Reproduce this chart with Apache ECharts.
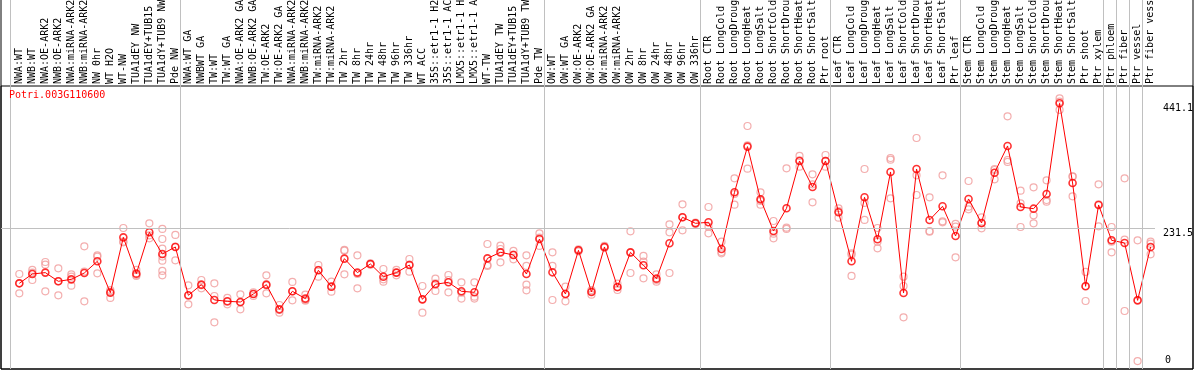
<!DOCTYPE html>
<html>
<head>
<meta charset="utf-8">
<script src="https://cdn.jsdelivr.net/npm/echarts@6/dist/echarts.min.js"></script>
<style>
  html, body { margin: 0; padding: 0; background: #fff; }
  #chart { width: 1194px; height: 370px; }
</style>
</head>
<body>
<div id="chart"></div>
<script>
const geneName = 'Potri.003G110600';

const categories = [
  'NWA:WT', 'NWB:WT', 'NWA:OE-ARK2', 'NWB:OE-ARK2', 'NWA:miRNA-ARK2', 'NWB:miRNA-ARK2',
  'NW 0hr', 'WT H2O', 'WT-NW', 'TUA1dEY NW', 'TUA1dEY+TUB15 NW', 'TUA1dY+TUB9 NW', 'Pde NW',
  'NWA:WT GA', 'NWBWT GA', 'TW:WT', 'TW:WT GA', 'NWA:OE-ARK2 GA', 'NWB:OE-ARK2 GA',
  'TW:OE-ARK2', 'TW:OE-ARK2 GA', 'NWA:miRNA-ARK2', 'NWB:miRNA-ARK2', 'TW:miRNA-ARK2',
  'TW:miRNA-ARK2 GA', 'TW 2hr', 'TW 8hr', 'TW 24hr', 'TW 48hr', 'TW 96hr', 'TW 336hr',
  'WT ACC', '35S::etr1-1 H2O', '35S::etr1-1 ACC', 'LMX5::etr1-1 H2O', 'LMX5::etr1-1 ACC',
  'WT-TW', 'TUA1dEY TW', 'TUA1dEY+TUB15 TW', 'TUA1dY+TUB9 TW', 'Pde TW',
  'OW:WT', 'OW:WT GA', 'OW:OE-ARK2', 'OW:OE-ARK2 GA', 'OW:miRNA-ARK2', 'OW:miRNA-ARK2 GA',
  'OW 2hr', 'OW 8hr', 'OW 24hr', 'OW 48hr', 'OW 96hr', 'OW 336hr',
  'Root CTR', 'Root LongCold', 'Root LongDrought', 'Root LongHeat', 'Root LongSalt',
  'Root ShortCold', 'Root ShortDrought', 'Root ShortHeat', 'Root ShortSalt', 'Ptr root',
  'Leaf CTR', 'Leaf LongCold', 'Leaf LongDrought', 'Leaf LongHeat', 'Leaf LongSalt',
  'Leaf ShortCold', 'Leaf ShortDrought', 'Leaf ShortHeat', 'Leaf ShortSalt', 'Ptr leaf',
  'Stem CTR', 'Stem LongCold', 'Stem LongDrought', 'Stem LongHeat', 'Stem LongSalt',
  'Stem ShortCold', 'Stem ShortDrought', 'Stem ShortHeat', 'Stem ShortSalt', 'Ptr shoot',
  'Ptr xylem', 'Ptr phloem', 'Ptr fiber', 'Ptr vessel', 'Ptr fiber vessel'
];

// number of categories in each separated group (left to right)
const groupSizes = [13, 28, 12, 10, 10, 11, 1, 1, 1, 1];

const meanValues = [
  138.5, 154.2, 156.5, 141.9, 145.2, 155.9, 175.5, 122.8, 215.8, 154.8, 224.3, 187.8, 199.6,
  118.4, 136.3, 110.5, 108.3, 107.1, 120.6, 136.3, 94.8, 125.1, 112.8, 160.4, 132.9, 180.0,
  156.5, 171.0, 149.7, 156.5, 169.3, 111.6, 136.9, 140.2, 125.1, 123.4, 180.5, 190.6, 186.2,
  154.2, 213.0,
  157.0, 120.6, 194.0, 124.0, 199.6, 132.4, 190.6, 168.8, 146.4, 205.8, 249.5, 239.4,
  241.1, 196.2, 291.5, 368.3, 279.7, 226.5, 264.6, 344.2, 300.5, 344.2,
  257.9, 175.5, 283.1, 212.5, 325.7, 122.3, 330.7, 245.0, 268.0, 218.1,
  280.3, 239.9, 324.5, 369.4, 266.8, 264.0, 288.7, 441.1, 307.2, 133.5, 270.2,
  210.8, 206.3, 109.9, 199.6
];

const replicateValues = [
  [154.2, 138.5, 121.7], [161.0, 156.5, 144.1], [174.4, 169.9, 125.1], [163.7, 141.9, 118.4],
  [153.7, 149.7, 134.6], [200.7, 158.2, 108.3], [185.6, 183.4, 155.3], [127.3, 124.5, 113.9],
  [231.5, 208.6, 207.4], [161.0, 152.5, 150.9], [239.4, 219.2, 214.2],
  [229.9, 213.0, 196.8, 183.4, 176.6, 159.3, 152.0], [219.8, 200.2, 177.2],
  [135.2, 117.8, 103.2], [144.1, 135.2, 130.1], [138.5, 117.2, 73.0], [113.9, 107.7, 103.2],
  [120.0, 106.6, 94.8], [123.4, 120.6, 117.2], [152.0, 135.2, 121.7], [102.1, 93.7, 89.2],
  [140.8, 125.1, 110.0], [119.5, 110.5, 109.4], [169.3, 161.0, 149.7], [141.3, 132.9, 124.5],
  [194.6, 193.4, 153.7], [185.6, 154.2, 130.1], [172.1, 171.0, 169.9], [162.6, 145.2, 141.3],
  [161.0, 156.5, 152.0], [179.4, 169.9, 158.1], [134.0, 111.6, 89.2], [146.4, 138.5, 125.6],
  [152.5, 144.1, 123.4], [140.2, 122.8, 112.8], [140.2, 116.1, 112.8], [204.6, 169.3, 167.7],
  [201.8, 196.2, 173.8], [192.9, 186.7, 178.9], [185.6, 167.7, 136.3, 126.8], [222.6, 215.3, 201.3],
  [190.6, 167.7, 110.5], [132.9, 120.6, 108.3], [195.7, 194.0, 192.3], [127.3, 125.1, 119.5],
  [201.3, 199.0, 198.5], [138.0, 131.8, 127.3], [225.9, 190.1, 155.9], [184.5, 175.0, 146.9],
  [153.7, 144.1, 141.3], [237.7, 224.3, 155.9], [271.3, 249.5, 227.6], [240.5, 239.4, 238.3],
  [266.8, 233.8, 222.6], [208.6, 191.2, 189.0], [315.0, 288.7, 270.8], [403.0, 370.5, 331.3],
  [291.5, 276.9, 270.8], [243.3, 222.0, 214.2], [331.8, 232.1, 229.9], [352.6, 345.3, 334.6],
  [321.7, 304.9, 274.7], [354.2, 344.2, 334.6],
  [264.6, 260.1, 248.9], [189.0, 186.7, 150.9], [330.7, 273.6, 245.0], [231.5, 208.6, 197.4],
  [349.2, 346.4, 281.4], [149.7, 134.0, 81.4], [382.8, 320.0, 287.0], [283.1, 226.5, 225.4],
  [320.0, 242.7, 241.1], [238.3, 233.8, 182.2],
  [310.5, 267.4, 262.9], [249.5, 239.4, 231.0], [330.7, 329.0, 313.3], [419.2, 345.8, 342.5],
  [294.3, 273.0, 233.2], [299.9, 252.8, 239.4], [311.7, 278.6, 275.8], [449.5, 443.9, 429.9],
  [318.4, 317.8, 284.8], [157.6, 134.0, 108.8], [304.9, 271.3, 234.3],
  [233.2, 208.6, 190.6], [315.0, 211.9, 92.0], [210.8, 110.5, 7.9], [208.6, 205.2, 187.3]
];

const yTickLabels = [231.5, 441.1];
const yBottomLabel = [0];
const gridLineValue = 231.5;

// ---------- derived structures ----------
const FONT = 'DejaVu Sans Mono';
const X_MIN = -1.408, X_MAX = 87.338;
const Y_MIN = -5.5, Y_MAX = 470.2;
const SEP_OFFSET = 0.338; // separator sits this far right of a group's last category

const separators = [];
{
  let start = 0;
  separators.push({ xAxis: start - 1 + SEP_OFFSET });
  groupSizes.forEach(n => { start += n; separators.push({ xAxis: start - 1 + SEP_OFFSET }); });
}
const indices = categories.map((_, i) => i);
const meanPoints = meanValues.map((v, i) => [i, v]);
const repPoints = [];
replicateValues.forEach((arr, i) => arr.forEach(v => repPoints.push([i, v])));

const sepLine = {
  silent: true, symbol: 'none', animation: false,
  label: { show: false },
  lineStyle: { color: '#c0c0c0', width: 1, type: 'solid' },
  emphasis: { disabled: true },
  data: separators
};

const chart = echarts.init(document.getElementById('chart'), null, { renderer: 'canvas' });
chart.setOption({
  animation: false,
  backgroundColor: '#fff',
  title: {
    text: geneName, left: 9, top: 90, padding: 0,
    textStyle: { color: '#ff0000', fontSize: 10, fontWeight: 'normal', fontFamily: FONT }
  },
  grid: [
    { left: 1, width: 1154, top: 0, height: 86, show: false, outerBoundsMode: 'none', containLabel: false },
    { left: 1, width: 1154, top: 86, height: 283, show: false, outerBoundsMode: 'none', containLabel: false },
    { left: 1, right: 1, top: -5, bottom: 1, show: true, borderColor: '#000', borderWidth: 1, backgroundColor: 'transparent', outerBoundsMode: 'none' },
    { left: 1, right: 1, top: 86, bottom: 1, show: true, borderColor: '#000', borderWidth: 1, backgroundColor: 'transparent', outerBoundsMode: 'none' }
  ],
  xAxis: [
    { gridIndex: 0, type: 'value', min: X_MIN, max: X_MAX, show: false },
    {
      gridIndex: 1, type: 'value', min: X_MIN, max: X_MAX, position: 'top',
      axisLine: { show: false }, axisTick: { show: false }, splitLine: { show: false },
      axisLabel: {
        customValues: indices, rotate: 90, margin: 2,
        formatter: v => categories[Math.round(v)] || '',
        fontFamily: FONT, fontSize: 10, color: '#000'
      }
    },
    { gridIndex: 2, type: 'value', show: false },
    { gridIndex: 3, type: 'value', show: false }
  ],
  yAxis: [
    { gridIndex: 0, type: 'value', min: 0, max: 1, show: false },
    {
      gridIndex: 1, type: 'value', min: Y_MIN, max: Y_MAX, position: 'right',
      axisLine: { show: false }, axisTick: { show: false }, splitLine: { show: false },
      axisLabel: {
        customValues: yTickLabels, margin: 8, align: 'left', verticalAlign: 'top',
        formatter: v => String(v), fontFamily: FONT, fontSize: 10, color: '#000'
      }
    },
    {
      gridIndex: 1, type: 'value', min: Y_MIN, max: Y_MAX, position: 'right',
      axisLine: { show: false }, axisTick: { show: false }, splitLine: { show: false },
      axisLabel: {
        customValues: yBottomLabel, margin: 10, align: 'left', verticalAlign: 'bottom',
        formatter: v => String(v), fontFamily: FONT, fontSize: 10, color: '#000'
      }
    },
    { gridIndex: 2, type: 'value', show: false },
    { gridIndex: 3, type: 'value', show: false }
  ],
  series: [
    { type: 'scatter', xAxisIndex: 0, yAxisIndex: 0, data: [], markLine: sepLine },
    {
      type: 'scatter', xAxisIndex: 1, yAxisIndex: 1, data: [], markLine: Object.assign({}, sepLine, {
        data: separators.concat([{ yAxis: gridLineValue }])
      })
    },
    {
      type: 'scatter', xAxisIndex: 1, yAxisIndex: 1, data: repPoints,
      symbol: 'circle', symbolSize: 7, silent: true,
      itemStyle: { color: 'rgba(0,0,0,0)', borderColor: '#f09a9a', borderWidth: 1.2 }
    },
    {
      type: 'line', xAxisIndex: 1, yAxisIndex: 1, data: meanPoints,
      showSymbol: false, silent: true,
      lineStyle: { color: '#ff0000', width: 1 }
    },
    {
      type: 'scatter', xAxisIndex: 1, yAxisIndex: 1, data: meanPoints,
      symbol: 'circle', symbolSize: 7, silent: true,
      itemStyle: { color: 'rgba(0,0,0,0)', borderColor: '#ff0000', borderWidth: 1.6 }
    }
  ]
});
</script>
</body>
</html>
